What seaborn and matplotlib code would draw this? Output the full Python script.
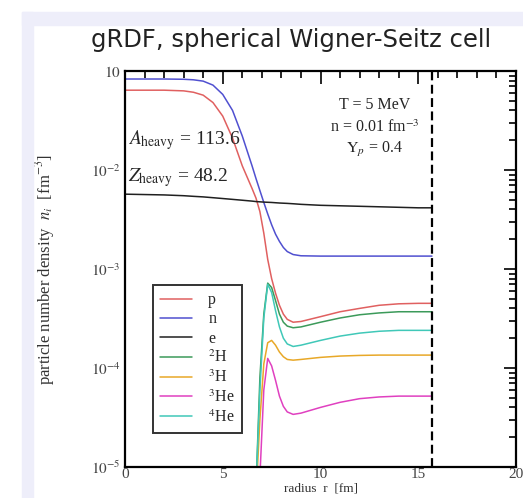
import numpy as np
import pandas as pd
import matplotlib
matplotlib.use("Agg")
import matplotlib.pyplot as plt
import seaborn as sns
from matplotlib.patches import Rectangle

# radius grid [fm] and particle number densities [fm^-3]
radius = [0, 1, 2, 3, 3.5, 4, 4.5, 5, 5.5, 6, 6.5, 6.7, 6.9, 7.1, 7.3, 7.5, 7.7, 7.9,
          8.1, 8.3, 8.6, 9, 10, 11, 12, 13, 14, 15, 15.7]
nan = np.nan
dens_p = [6.4e-2, 6.4e-2, 6.4e-2, 6.3e-2, 6.1e-2, 5.7e-2, 4.8e-2, 3.5e-2, 2.1e-2, 1.1e-2,
          6.5e-3, 5.2e-3, 3.8e-3, 2.3e-3, 1.25e-3, 8.0e-4, 5.7e-4, 4.3e-4, 3.5e-4, 3.1e-4,
          2.9e-4, 2.95e-4, 3.3e-4, 3.7e-4, 4.0e-4, 4.3e-4, 4.45e-4, 4.5e-4, 4.5e-4]
dens_n = [8.3e-2, 8.3e-2, 8.3e-2, 8.25e-2, 8.15e-2, 7.9e-2, 7.2e-2, 5.8e-2, 4.0e-2, 2.2e-2,
          1.1e-2, 8.2e-3, 6.2e-3, 4.7e-3, 3.6e-3, 2.8e-3, 2.25e-3, 1.9e-3, 1.65e-3, 1.5e-3,
          1.4e-3, 1.36e-3, 1.35e-3, 1.35e-3, 1.35e-3, 1.35e-3, 1.35e-3, 1.35e-3, 1.35e-3]
dens_e = [5.7e-3, 5.65e-3, 5.6e-3, 5.5e-3, 5.42e-3, 5.35e-3, 5.25e-3, 5.15e-3, 5.05e-3, 4.95e-3,
          4.85e-3, 4.8e-3, 4.77e-3, 4.74e-3, 4.72e-3, 4.7e-3, 4.67e-3, 4.64e-3, 4.62e-3, 4.6e-3,
          4.56e-3, 4.5e-3, 4.4e-3, 4.35e-3, 4.3e-3, 4.25e-3, 4.2e-3, 4.15e-3, 4.15e-3]
dens_2H = [nan, nan, nan, nan, nan, nan, nan, nan, nan, nan, nan,
           6e-6, 8e-5, 3.5e-4, 7.2e-4, 6.5e-4, 4.8e-4, 3.5e-4, 2.9e-4, 2.65e-4, 2.55e-4,
           2.6e-4, 2.9e-4, 3.2e-4, 3.45e-4, 3.6e-4, 3.7e-4, 3.7e-4, 3.7e-4]
dens_3H = [nan, nan, nan, nan, nan, nan, nan, nan, nan, nan, nan,
           5e-6, 3e-5, 1.1e-4, 1.8e-4, 1.9e-4, 1.7e-4, 1.45e-4, 1.3e-4, 1.22e-4, 1.2e-4,
           1.22e-4, 1.28e-4, 1.32e-4, 1.34e-4, 1.35e-4, 1.35e-4, 1.35e-4, 1.35e-4]
dens_3He = [nan, nan, nan, nan, nan, nan, nan, nan, nan, nan, nan,
            nan, 8e-6, 6e-5, 1.25e-4, 1.05e-4, 7.5e-5, 5.2e-5, 4.1e-5, 3.6e-5, 3.4e-5,
            3.5e-5, 4.0e-5, 4.5e-5, 4.9e-5, 5.1e-5, 5.2e-5, 5.2e-5, 5.2e-5]
dens_4He = [nan, nan, nan, nan, nan, nan, nan, nan, nan, nan, nan,
            6e-6, 6e-5, 3.2e-4, 7.0e-4, 5.8e-4, 3.8e-4, 2.6e-4, 2.0e-4, 1.75e-4, 1.65e-4,
            1.7e-4, 1.9e-4, 2.1e-4, 2.25e-4, 2.35e-4, 2.4e-4, 2.4e-4, 2.4e-4]
species = ["p", "n", "e", "$^2$H", "$^3$H", "$^3$He", "$^4$He"]
cell_radius = 15.7

colors = ["#e06060", "#5050d0", "#202020", "#3c9a5a", "#e8a828", "#e040c0", "#40c8b8"]

frames = []
for name, vals in zip(species, [dens_p, dens_n, dens_e, dens_2H, dens_3H, dens_3He, dens_4He]):
    frames.append(pd.DataFrame({"r": radius, "n": vals, "species": name}))
df = pd.concat(frames).dropna()

sns.set_style("white")
plt.rcParams["mathtext.fontset"] = "stix"
serif = "Liberation Serif"

fig = plt.figure(figsize=(5.23, 4.98), dpi=100)
# slide decoration
fig.patches.append(Rectangle((22 / 523, 0), 11 / 523, 1 - 12 / 498, transform=fig.transFigure,
                             color="#eeeefa", zorder=0))
fig.patches.append(Rectangle((22 / 523, 1 - 25 / 498), 1 - 22 / 523, 13 / 498,
                             transform=fig.transFigure, color="#eeeefa", zorder=0))
fig.text(291 / 523, 1 - 40 / 498, "gRDF, spherical Wigner-Seitz cell", ha="center", va="center",
         fontsize=17.5, family="DejaVu Sans", color="#222222")

ax = fig.add_axes([125 / 523, 1 - 467 / 498, 391 / 523, 396 / 498])
sns.lineplot(data=df, x="r", y="n", hue="species", hue_order=species,
             palette=dict(zip(species, colors)), estimator=None, sort=False,
             linewidth=1.1, ax=ax)
ax.set_yscale("log")
ax.set_xlim(0, 20)
ax.set_ylim(1e-5, 1e-1)
ax.axvline(cell_radius, color="black", linestyle=(0, (4, 2)), linewidth=1.6)

ax.set_xticks([0, 5, 10, 15, 20])
ax.set_xticks(np.arange(0, 21, 1), minor=True)
ax.set_yticks([1e-5, 1e-4, 1e-3, 1e-2, 1e-1])
ax.set_yticklabels(["$10^{-5}$", "$10^{-4}$", "$10^{-3}$", "$10^{-2}$", "$10$"])
ax.tick_params(which="both", direction="in", top=True, right=True, colors="black",
               labelcolor="#444444", labelsize=11, width=1.2)
ax.tick_params(which="major", length=9, pad=3)
ax.tick_params(which="minor", length=5)
ax.tick_params(axis="x", which="major", pad=1)
for lab in ax.get_xticklabels():
    lab.set_family(serif)
for sp in ax.spines.values():
    sp.set_color("black")
    sp.set_linewidth(1.6)

ax.set_xlabel("radius  r  [fm]", fontsize=9.5, family=serif, color="#333333", va="center")
ax.xaxis.set_label_coords(0.5, -0.055)
ax.set_ylabel("particle number density  $n_i$  [fm$^{-3}$]", fontsize=12, family=serif,
              color="#333333", va="center")
ax.yaxis.set_label_coords(-0.205, 0.5)

ax.text(0.15, 2.0e-2, "$A_{\\rm heavy}$ = 113.6", fontsize=14, family=serif, va="center")
ax.text(0.15, 8.3e-3, "$Z_{\\rm heavy}$ = 48.2", fontsize=14, family=serif, va="center")
ax.text(12.75, 4.5e-2, "T = 5 MeV", fontsize=11.5, family=serif, ha="center", va="center")
ax.text(12.75, 2.65e-2, "n = 0.01 fm$^{-3}$", fontsize=11.5, family=serif, ha="center",
        va="center")
ax.text(12.75, 1.6e-2, "$\\mathrm{Y}_p$ = 0.4", fontsize=11.5, family=serif, ha="center",
        va="center")

leg = ax.legend(loc="lower left", bbox_to_anchor=(0.072, 0.086), frameon=True, fancybox=False,
                edgecolor="black", prop={"family": serif, "size": 11.5}, handlelength=2.0,
                handletextpad=1.0, labelspacing=0.2, borderpad=0.45, borderaxespad=0)
leg.get_frame().set_linewidth(1.4)

fig.savefig("out.png", dpi=100, facecolor="white")
